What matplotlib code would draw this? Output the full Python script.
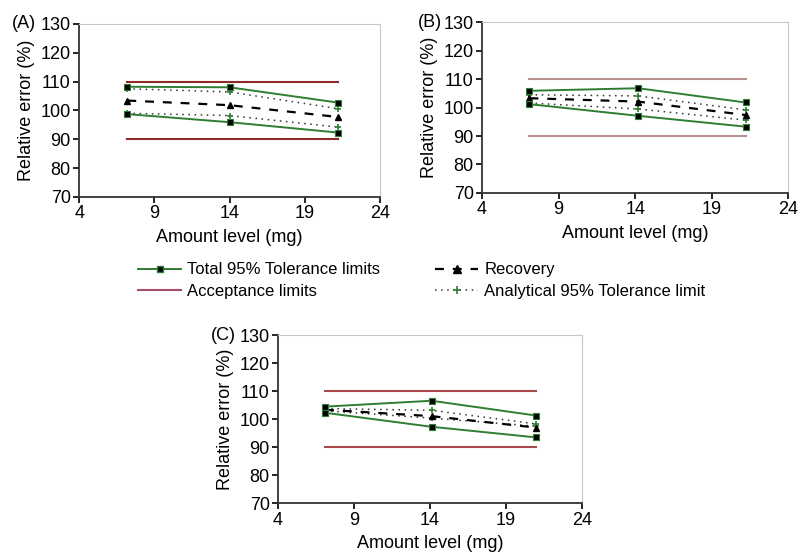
import matplotlib
matplotlib.use("Agg")
import matplotlib.pyplot as plt
from matplotlib.lines import Line2D

plt.rcParams['font.family'] = ['Liberation Sans', 'DejaVu Sans']

# amount levels (mg) per panel
x_a = [7.2, 14.0, 21.2]
x_b = [7.1, 14.2, 21.2]
x_c = [7.1, 14.1, 21.0]

# Panel A
tot_up_a = [108.2, 108.0, 102.7]
tot_lo_a = [98.7, 95.9, 92.3]
rec_a = [103.4, 101.8, 97.7]
ana_up_a = [107.5, 106.4, 100.6]
ana_lo_a = [99.0, 98.2, 94.2]

# Panel B
tot_up_b = [105.9, 106.8, 101.8]
tot_lo_b = [101.2, 97.1, 93.3]
rec_b = [103.3, 102.1, 97.4]
ana_up_b = [104.5, 104.1, 99.2]
ana_lo_b = [101.6, 99.5, 95.6]

# Panel C
tot_up_c = [104.5, 106.6, 101.3]
tot_lo_c = [102.3, 97.3, 93.5]
rec_c = [103.4, 101.1, 97.0]
ana_up_c = [103.8, 103.2, 98.3]
ana_lo_c = [103.0, 100.4, 97.5]

acc_limits = [90, 110]
xticks = [4, 9, 14, 19, 24]
yticks = [70, 80, 90, 100, 110, 120, 130]

green = '#2f7d32'


def draw_panel(ax, label, label_x, x, tot_up, tot_lo, rec, ana_up, ana_lo, acc_color):
    for lim in acc_limits:
        ax.plot([x[0], x[-1]], [lim, lim], color=acc_color, lw=1.5)
    for y in (ana_up, ana_lo):
        ax.plot(x, y, color='#333333', ls=(0, (1, 3)), lw=1.1,
                marker='+', ms=5, mec=green, mew=1.2)
    ax.plot(x, rec, color='black', ls=(0, (4, 4)), lw=1.6,
            marker='^', ms=5, mfc='black', mec='black')
    for y in (tot_up, tot_lo):
        ax.plot(x, y, color=green, lw=1.4, marker='s', ms=5,
                mfc='black', mec=green, mew=0.8)
    ax.set_xlim(4, 24)
    ax.set_ylim(70, 130)
    ax.set_xticks(xticks)
    ax.set_yticks(yticks)
    ax.tick_params(labelsize=13, length=4, direction='out', width=1.2, pad=2)
    ax.set_xlabel('Amount level (mg)', fontsize=13, labelpad=5)
    ax.set_ylabel('Relative error (%)', fontsize=13, labelpad=4)
    for s in ('left', 'bottom'):
        ax.spines[s].set_color('#333333')
        ax.spines[s].set_linewidth(1.3)
    for s in ('top', 'right'):
        ax.spines[s].set_color('#c8c8c8')
        ax.spines[s].set_linewidth(0.8)
    ax.text(label_x, 1.0, label, transform=ax.transAxes, fontsize=13,
            ha='left', va='center')


fig = plt.figure(figsize=(8, 5.56), dpi=100)
ax_a = fig.add_axes([0.099, 0.646, 0.376, 0.311])
ax_b = fig.add_axes([0.6025, 0.653, 0.383, 0.307])
ax_c = fig.add_axes([0.3475, 0.095, 0.38, 0.302])

draw_panel(ax_a, '(A)', -0.225, x_a, tot_up_a, tot_lo_a, rec_a, ana_up_a, ana_lo_a, '#8e2a2a')
draw_panel(ax_b, '(B)', -0.21, x_b, tot_up_b, tot_lo_b, rec_b, ana_up_b, ana_lo_b, '#b89090')
draw_panel(ax_c, '(C)', -0.22, x_c, tot_up_c, tot_lo_c, rec_c, ana_up_c, ana_lo_c, '#a84a4a')

handles = [
    Line2D([], [], color=green, lw=1.4, marker='s', ms=5, mfc='black', mec=green),
    Line2D([], [], color='#a5506a', lw=1.5),
    Line2D([], [], color='black', ls=(0, (4, 4)), lw=1.6, marker='^', ms=6,
           mfc='black', mec='black'),
    Line2D([], [], color='#333333', ls=(0, (1, 3)), lw=1.1, marker='+', ms=6,
           mec=green, mew=1.2),
]
labels = ['Total 95% Tolerance limits', 'Acceptance limits',
          'Recovery', 'Analytical 95% Tolerance limit']
fig.legend(handles, labels, ncol=2, loc='center', bbox_to_anchor=(0.527, 0.495),
           frameon=False, fontsize=12, handlelength=2.6, handletextpad=0.35,
           columnspacing=3.3, labelspacing=0.4)

fig.savefig('out.png', dpi=100)
